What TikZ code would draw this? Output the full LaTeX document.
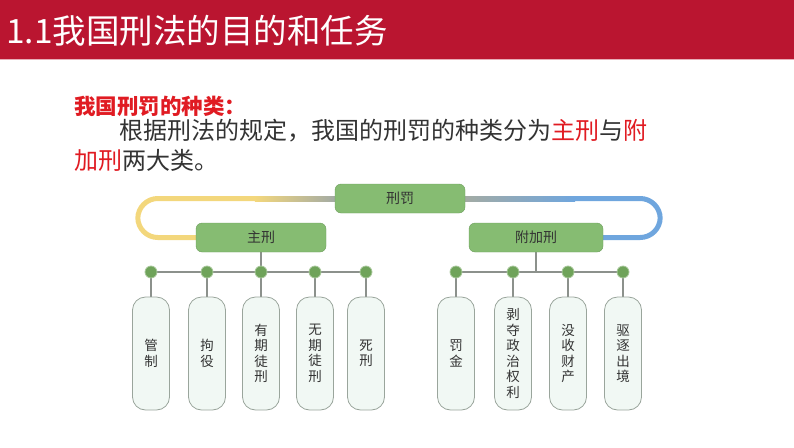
\documentclass[tikz,border=0pt]{standalone}
\usepackage{fontspec}
\setmainfont{Noto Sans CJK SC}
\usepackage{xcolor}
\definecolor{TitreRouge}{HTML}{BA1530}
\definecolor{TexteRouge}{HTML}{E01B22}
\definecolor{BoiteVert}{HTML}{86BC72}
\definecolor{BordVert}{HTML}{6E9E5E}
\definecolor{PointVert}{HTML}{6FA35A}
\definecolor{PiluleFond}{HTML}{F1F8F4}
\definecolor{PiluleBord}{HTML}{9AA59C}
\definecolor{LienJaune}{HTML}{F3D77C}
\definecolor{LienBleu}{HTML}{6FA6DE}
\definecolor{LienGris}{HTML}{A3ABA4}
\definecolor{Trait}{HTML}{8C918C}
\usetikzlibrary{positioning,calc,backgrounds}

\begin{document}
\begin{tikzpicture}[x=1pt, y=-1pt, every node/.style={inner sep=0pt, text=black!80},
    boite/.style={draw=BordVert, fill=BoiteVert, rounded corners=6pt, minimum width=130pt, minimum height=29pt, font=\fontsize{14}{16}\selectfont},
    pilule/.style={draw=PiluleBord, fill=PiluleFond, rounded corners=13pt, line width=0.8pt, minimum width=37pt, minimum height=113pt, align=center, font=\fontsize{13.5}{15.5}\selectfont},
    pastille/.style={circle, fill=PointVert, draw=PointVert!60!white, line width=0.8pt, minimum size=12pt},
    trait/.style={draw=Trait, line width=1.5pt}]
        \useasboundingbox (0,0) rectangle (794,447);

        % Bandeau du titre
        \fill[TitreRouge] (0,0) rectangle (794,59);
        \draw[TitreRouge!35!white, line width=1pt] (0,59.5) -- (794,59.5);
        \node[anchor=west, text=white, font=\fontsize{33.5}{34}\selectfont] (titre) at (6,31) {1.1我国刑法的目的和任务};

        % Texte d'introduction
        \node[anchor=west, text=TexteRouge, font=\fontsize{21.5}{24}\selectfont\bfseries] (rubrique) at (74,106) {我国刑罚的种类：};
        \node[anchor=west, font=\fontsize{24}{29}\selectfont] (ligne1) at (119,131) {根据刑法的规定，我国的刑罚的种类分为\textcolor{TexteRouge}{主刑}与\textcolor{TexteRouge}{附}};
        \node[anchor=west, font=\fontsize{24}{29}\selectfont] (ligne2) at (74,160) {\textcolor{TexteRouge}{加刑}两大类。};

        % Blocs principaux
        \node[boite] (xingfa) at (400,198.5) {刑罚};
        \node[boite] (zhuxing) at (261,237.5) {主刑};
        \node[boite, minimum width=134pt] (fujiaxing) at (536,237.5) {附加刑};

        % Pastilles et piliers
        \foreach \x/\n in {151/1,207/2,261/3,315/4,366/5}
            \node[pastille] (g\n) at (\x,272) {};
        \foreach \x/\n in {456/1,513/2,568/3,623/4}
            \node[pastille] (d\n) at (\x,272) {};
        \foreach \n/\mot in {1/{管\\制}, 2/{拘\\役}, 3/{有\\期\\徒\\刑}, 4/{无\\期\\徒\\刑}, 5/{死\\刑}}
            \node[pilule] (pg\n) at ($(g\n)+(0,81.5)$) {\mot};
        \foreach \n/\mot in {1/{罚\\金}, 2/{剥\\夺\\政\\治\\权\\利}, 3/{没\\收\\财\\产}, 4/{驱\\逐\\出\\境}}
            \node[pilule] (pd\n) at ($(d\n)+(0,81.5)$) {\mot};

        % Liaisons sous les blocs
        \begin{scope}[on background layer]
            \draw[LienJaune, line width=5pt, rounded corners=20pt] (xingfa.west) -- ++(-197,0) |- (zhuxing.west);
            \shade[left color=LienJaune, right color=LienGris] ($(xingfa.west)+(-80,-2.5)$) rectangle ($(xingfa.west)+(0,2.5)$);
            \draw[LienBleu, line width=5pt, rounded corners=20pt] (xingfa.east) -- ++(195,0) |- (fujiaxing.east);
            \shade[left color=LienGris, right color=LienBleu] ($(xingfa.east)+(0,-2.5)$) rectangle ($(xingfa.east)+(110,2.5)$);
            \draw[trait] (zhuxing.south) -- (g3);
            \draw[trait] (g1) -- (g5);
            \draw[trait] (fujiaxing.south) -- (fujiaxing.south |- d2);
            \draw[trait] (d1) -- (d4);
            \foreach \n in {1,...,5}
                \draw[trait] (g\n) -- (pg\n.north);
            \foreach \n in {1,...,4}
                \draw[trait] (d\n) -- (pd\n.north);
        \end{scope}
\end{tikzpicture}
\end{document}
